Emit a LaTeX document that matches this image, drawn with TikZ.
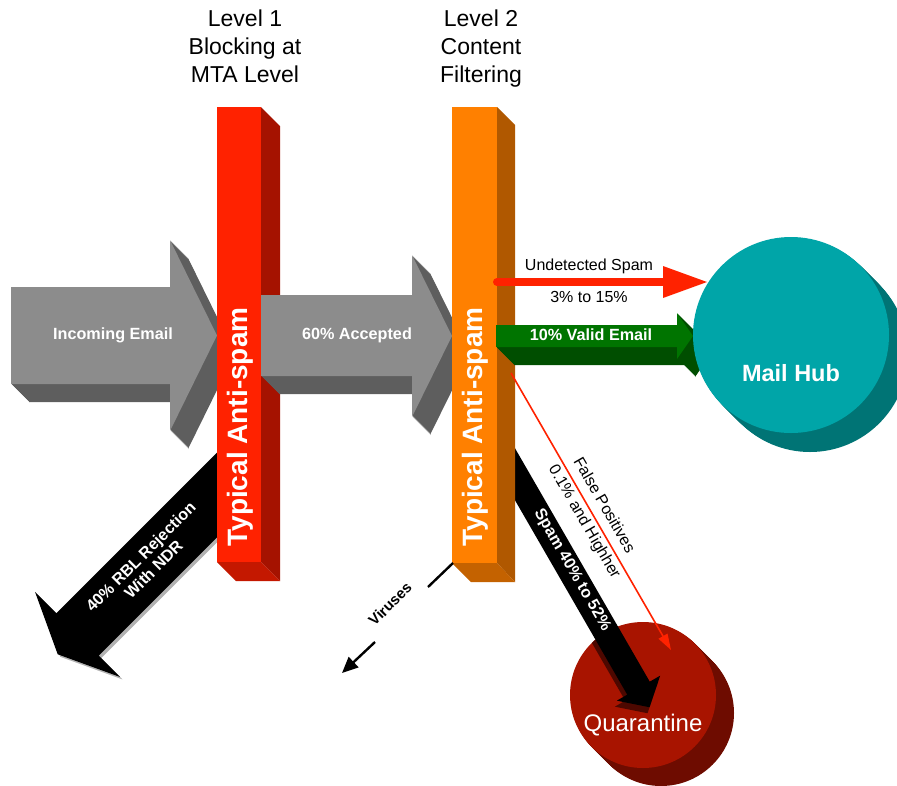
\documentclass[tikz,border=0pt]{standalone}
\usepackage{fontspec}
\setmainfont{Liberation Sans}
\usetikzlibrary{arrows.meta}
\definecolor{redF}{HTML}{FF2200}
\definecolor{redS}{HTML}{A51200}
\definecolor{redB}{HTML}{C41800}
\definecolor{orF}{HTML}{FF8000}
\definecolor{orS}{HTML}{B05800}
\definecolor{orB}{HTML}{C46200}
\definecolor{grF}{HTML}{8C8C8C}
\definecolor{grS}{HTML}{5E5E5E}
\definecolor{gnF}{HTML}{007400}
\definecolor{gnS}{HTML}{004E00}
\definecolor{tlF}{HTML}{00A5A8}
\definecolor{tlS}{HTML}{007475}
\definecolor{qF}{HTML}{A81400}
\definecolor{qS}{HTML}{6E0C00}
\begin{document}
\begin{tikzpicture}[x=1pt,y=-1pt,
  wlbl/.style={font=\bfseries\fontsize{16.2}{18}\selectfont, text=white, inner sep=0, align=center},
  blbl/.style={font=\fontsize{16}{18}\selectfont, text=black, inner sep=0, align=center},
  lvl/.style={font=\fontsize{23}{28}\selectfont, anchor=north, inner sep=0, align=center},
  barlabel/.style={font=\bfseries\fontsize{28}{30}\selectfont, text=white, rotate=90, inner sep=0},
  arrA/.style={insert path={(11,287) -- (170,287) -- (170,240) -- (217,335.5) -- (170,431) -- (170,384) -- (11,384) -- cycle}},
  arrB/.style={insert path={(261,295) -- (412,295) -- (412,255) -- (452,336) -- (412,417) -- (412,376) -- (261,376) -- cycle}},
  arrG/.style={insert path={(496,325) -- (677,325) -- (677,313) -- (693,336) -- (677,359) -- (677,347) -- (496,347) -- cycle}},
  thinarrow/.style={line width=1.6pt, draw=redF, -{Triangle[length=16pt,width=10pt]}},
]
\useasboundingbox (0,0) rectangle (897,785);

% 40% rejection arrow (behind red bar)
\begin{scope}[shift={(242.5,474.5)}, rotate=-135]
  \fill[gray!60] (0,-30) -- (229.8,-30) -- (229.8,-60) -- (257.8,0) -- (229.8,60) -- (229.8,30) -- (0,30) -- cycle;
\end{scope}
\begin{scope}[shift={(240,472)}, rotate=-135]
  \fill[black] (0,-30) -- (229.8,-30) -- (229.8,-60) -- (257.8,0) -- (229.8,60) -- (229.8,30) -- (0,30) -- cycle;
\end{scope}

% incoming email arrow
\foreach \d in {1,...,18}{\fill[grS, shift={(\d,\d)}, arrA];}
\fill[grF, arrA];

% red bar
\fill[redS] (261,107) -- (280,126) -- (280,581) -- (261,562) -- cycle;
\fill[redB] (217,562) -- (261,562) -- (280,581) -- (236,581) -- cycle;
\fill[redF] (217,107) rectangle (261,562);

% 60% accepted arrow
\foreach \d in {1,...,18}{\fill[grS, shift={(\d,\d)}, arrB];}
\fill[grF, arrB];

% quarantine disc
\foreach \d in {1,...,18}{\fill[qS] (643+\d,695+\d) circle[radius=73pt];}
\node[circle, fill=qF, minimum size=146pt, inner sep=0] (quar) at (643,695) {};

% spam arrow
\begin{scope}
  \clip (643,695) circle[radius=73pt];
  \begin{scope}[shift={(499,456)}, rotate=-60]
    \fill[qS!70!black] (0,-13) -- (275,-13) -- (275,-25) -- (297,0) -- (275,25) -- (275,13) -- (0,13) -- cycle;
  \end{scope}
\end{scope}
\begin{scope}[shift={(501,450)}, rotate=-60]
  \fill[black] (0,-13) -- (275,-13) -- (275,-25) -- (297,0) -- (275,25) -- (275,13) -- (0,13) -- cycle;
\end{scope}

% orange bar
\fill[orS] (497,107) -- (515,125) -- (515,582) -- (497,563) -- cycle;
\fill[orB] (452,563) -- (497,563) -- (515,582) -- (471,582) -- cycle;
\fill[orF] (452,107) rectangle (497,563);

% valid email arrow
\foreach \d in {1,...,18}{\fill[gnS, shift={(\d,\d)}, arrG];}
\fill[gnF, arrG];

% mail hub disc
\foreach \d in {1,...,19}{\fill[tlS] (791+\d,335+\d) circle[radius=98pt];}
\node[circle, fill=tlF, minimum size=196pt, inner sep=0] (hub) at (791,335) {};

% undetected spam arrow
\coordinate (us) at (497,282);
\coordinate (uh) at (664,282);
\coordinate (uht) at (663,266);
\coordinate (uhb) at (663,298);
\coordinate (utip) at (707,282);
\draw[redF, line width=8pt, line cap=round] (us) -- (uh);
\fill[redF] (uht) -- (utip) -- (uhb) -- cycle;

% false positives
\coordinate (fp1) at (511,373);
\coordinate (fp2) at (671,650);
\draw[thinarrow] (fp1) -- (fp2);

% viruses
\coordinate (v1) at (453,563);
\coordinate (v2) at (428,587);
\coordinate (v3) at (375,642);
\coordinate (v4) at (342,673);
\draw[line width=2.4pt] (v1) -- (v2);
\draw[line width=2.4pt, -{Triangle[length=16pt,width=14pt]}] (v3) -- (v4);

% texts
\node[lvl] (lv1) at (245,10) {Level 1\\Blocking at\\MTA Level};
\node[lvl] (lv2) at (481,10) {Level 2\\Content\\Filtering};
\node[barlabel] (t1) at (240,427) {Typical Anti-spam};
\node[barlabel] (t2) at (475,427) {Typical Anti-spam};
\node[wlbl] (inc) at (113,335.5) {Incoming Email};
\node[wlbl] (acc) at (357,335.5) {60\% Accepted};
\node[wlbl] (val) at (591,335) {10\% Valid Email};
\node[blbl] (und) at (589,266) {Undetected Spam};
\node[blbl] (pct) at (589,297) {3\% to 15\%};
\node[font=\bfseries\fontsize{23.5}{25}\selectfont, text=white, inner sep=0] (hubt) at (791,373) {Mail Hub};
\node[font=\fontsize{24}{26}\selectfont, text=white, inner sep=0] (quart) at (643,725) {Quarantine};
\node[wlbl, rotate=-60] (spam) at (572,570) {Spam 40\% to 52\%};
\node[blbl, rotate=-60] (fpa) at (605,505) {False Positives};
\node[blbl, rotate=-60] (fpb) at (584,522) {0.1\% and Highher};
\node[wlbl, rotate=45] (rbl) at (147,563) {40\% RBL Rejection\\With NDR};
\node[font=\bfseries\fontsize{15}{17}\selectfont, inner sep=0, rotate=45] (vir) at (390,604) {Viruses};
\end{tikzpicture}
\end{document}
